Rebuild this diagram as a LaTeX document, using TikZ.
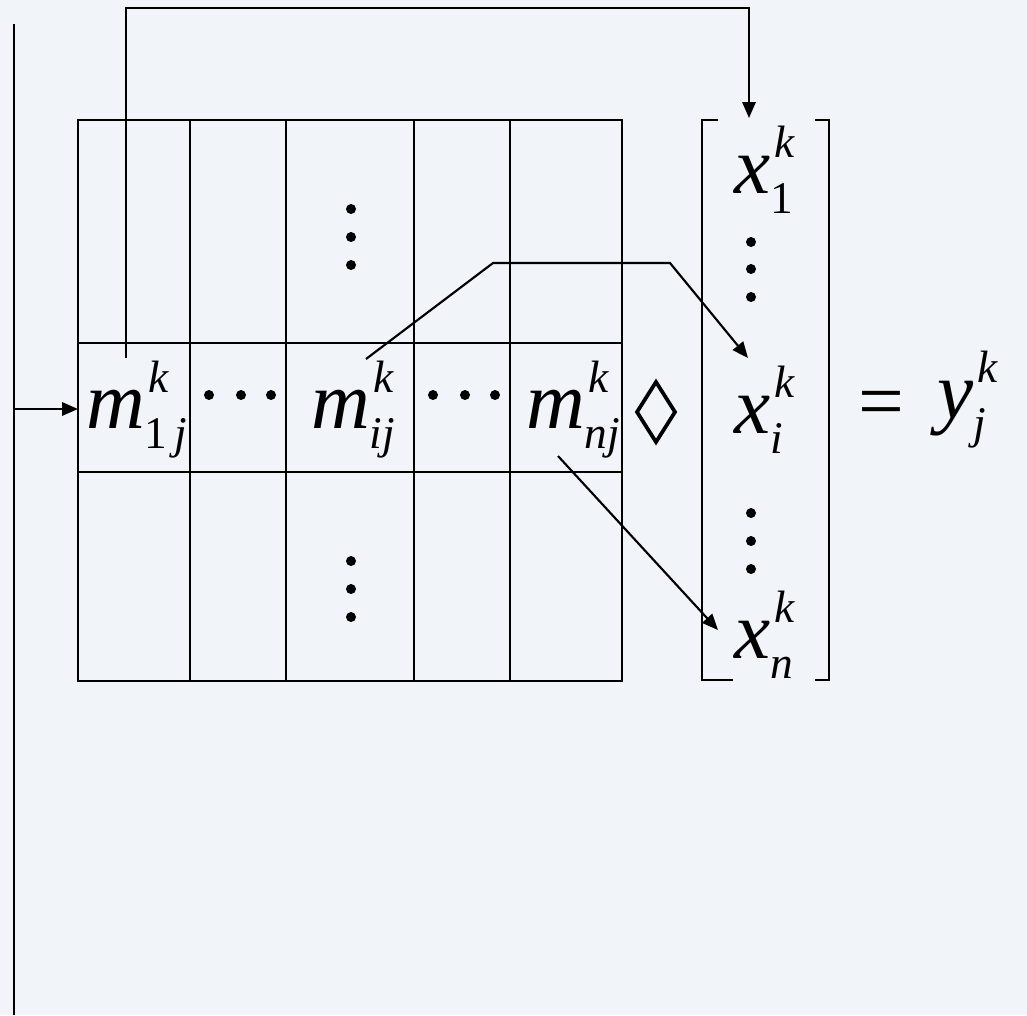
\documentclass[tikz,border=0pt]{standalone}
\usepackage{fontspec}
\setmainfont{Liberation Serif}
\usetikzlibrary{arrows.meta}
\definecolor{bgtint}{RGB}{241,244,248}
\newcommand\sbf{\fontsize{34}{40}\selectfont}
\newcommand\mterm[3]{\textit{#1}\rlap{\kern3pt\raisebox{27pt}{\sbf\itshape #2}}\raisebox{-15pt}{\sbf\itshape #3}}
\begin{document}
\begin{tikzpicture}[x=0.75pt,y=-0.75pt,
  ln/.style={line width=1.6pt},
  arr/.style={ln,-{Triangle[length=12pt,width=10pt]}},
  term/.style={inner sep=0pt,outer sep=0pt,anchor=base west,font=\fontsize{61}{72}\selectfont},
  dotb/.style={fill=black}]
\fill[bgtint] (0,0) rectangle (1027,1015);
\useasboundingbox (0,0) rectangle (1027,1015);
% grid
\draw[ln] (78,120) rectangle (622,681);
\foreach \xx in {190,286,414,510} \draw[ln] (\xx,120) -- (\xx,681);
\draw[ln] (78,343) -- (622,343);
\draw[ln] (78,472) -- (622,472);
% vector bracket
\draw[ln] (718,120) -- (702,120) -- (702,680) -- (733,680);
\draw[ln] (815,120) -- (829,120) -- (829,680) -- (815,680);
% terms
\node[term] (m1) at (86,428) {\mterm{m}{k}{\textup{1}\,j}};
\node[term] (mi) at (311,428) {\mterm{m}{k}{ij}};
\node[term] (mn) at (526,428) {\mterm{m}{k}{nj}};
\node[term] (x1) at (734,193) {\mterm{x}{k}{\textup{1}}};
\node[term] (xi) at (734,433) {\mterm{x}{k}{i}};
\node[term] (xn) at (734,658) {\mterm{x}{k}{n}};
\node[term] (eq) at (858,428) {=};
\node[term] (yj) at (937,418) {\mterm{y}{k}{j}};
% dots
\foreach \xx in {209,241,271,433,465,495} \fill[dotb] (\xx,395) circle (5);
\foreach \yy in {209,237,265,561,589,617} \fill[dotb] (351,\yy) circle (5);
\foreach \yy in {242,269,297,513,541,569} \fill[dotb] (751,\yy) circle (5);
% lozenge
\draw[line width=2.8pt,line join=miter] (656,382) -- (675,412) -- (656,442) -- (637,412) -- cycle;
% connectors
\coordinate (L0) at (14,24);
\coordinate (L1) at (14,1015);
\coordinate (La) at (14,409);
\coordinate (gw) at (78,409);
\draw[ln] (L0) -- (L1);
\draw[arr] (La) -- (gw);
\coordinate (T0) at (126,358);
\coordinate (T1) at (126,8);
\coordinate (T2) at (749,118);
\draw[arr] (T0) -- (T1) -| (T2);
\coordinate (M0) at (366,359);
\coordinate (M1) at (493,263);
\coordinate (M2) at (670,263);
\coordinate (M3) at (748,358);
\draw[arr] (M0) -- (M1) -- (M2) -- (M3);
\coordinate (N0) at (558,456);
\coordinate (N1) at (718,630);
\draw[arr] (N0) -- (N1);
\end{tikzpicture}
\end{document}
